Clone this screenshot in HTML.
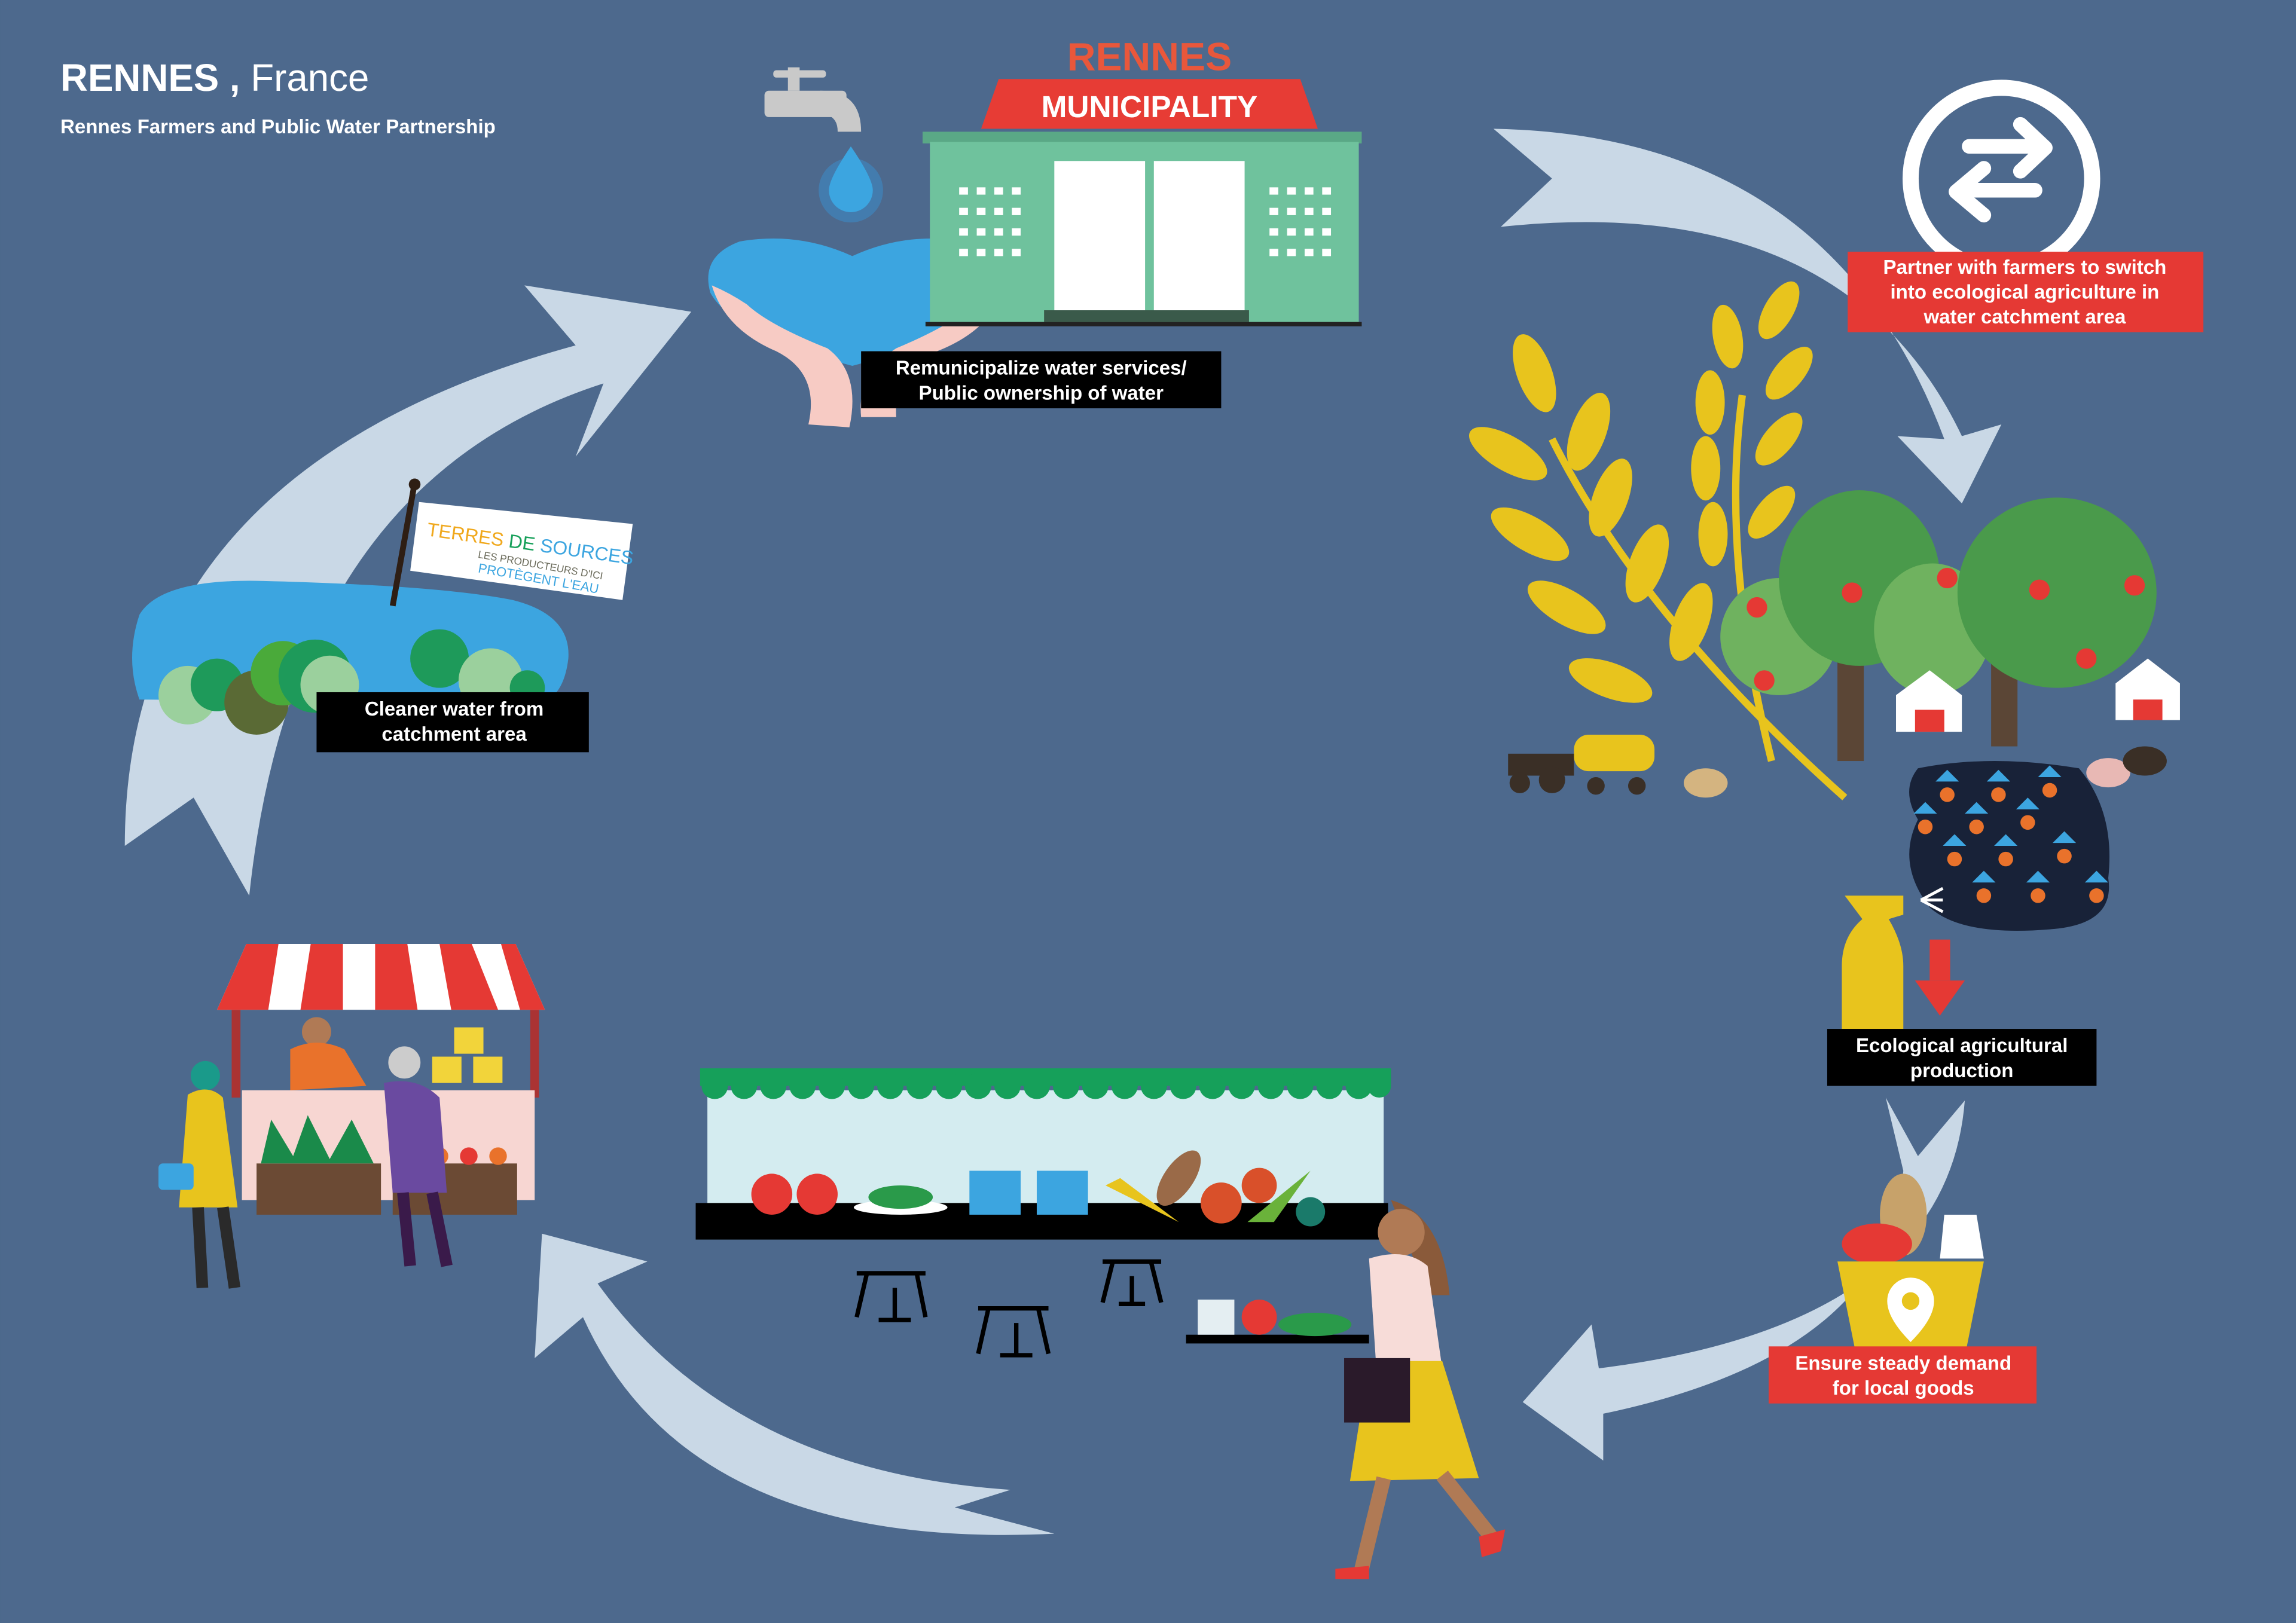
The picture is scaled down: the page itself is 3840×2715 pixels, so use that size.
<!DOCTYPE html>
<html><head><meta charset="utf-8"><style>
html,body{margin:0;padding:0;background:#4d698d;}
svg{display:block}
text{font-family:"Liberation Sans",sans-serif;}
</style></head><body>
<svg width="3840" height="2715" viewBox="0 0 1568 1109" xmlns="http://www.w3.org/2000/svg">
<rect width="1568" height="1109" fill="#4d698d"/>
<text x="41" y="62" font-size="26" font-weight="bold" fill="#fff">RENNES , <tspan font-weight="normal">France</tspan></text>
<text x="41" y="91" font-size="13.5" font-weight="bold" fill="#fff">Rennes Farmers and Public Water Partnership</text>

<g fill="#c9d8e6">
<path d="M1020,88 Q1250,92 1328,300 L1296,298 L1340,344 L1367,290 L1340,298 Q1260,130 1025,155 L1060,122 Z"/>
<path d="M85,578 Q85,320 393,236 L358,195 L472,213 L393,312 L412,262 Q200,330 170,612 L132,545 Z"/>
<path d="M720,1048 Q470,1060 398,900 L365,928 L370,843 L442,862 L408,877 Q500,1005 690,1018 L652,1030 Z"/>
<path d="M1342,752 Q1330,905 1092,935 L1087,905 L1040,958 L1095,998 L1095,966 Q1290,925 1300,800 L1288,750 L1310,790 Z"/>
</g>

<g fill="#c9c9c9">
<rect x="538" y="46" width="8" height="16"/>
<rect x="528" y="48" width="36" height="5" rx="2"/>
<rect x="522" y="62" width="56" height="18" rx="3"/>
<path d="M560,62 Q588,62 588,90 L572,90 Q572,78 560,78 Z"/>
</g>
<circle cx="581" cy="130" r="22" fill="#3a8fd0" opacity="0.5"/>
<path d="M581,100 Q596,122 596,130 A15,15 0 0 1 566,130 Q566,122 581,100 Z" fill="#3ca5e0"/>
<path d="M582,175 Q545,158 505,165 Q478,175 485,200 Q500,228 582,250 Q664,228 679,200 Q686,175 659,165 Q619,158 582,175 Z" fill="#3ca5e0"/>
<path d="M486,195 Q495,225 530,240 Q560,255 552,290 L580,292 Q588,255 565,238 Q525,222 510,208 Q498,200 486,195 Z" fill="#f7cbc4"/>
<path d="M686,195 Q678,225 640,240 Q610,252 612,285 L588,285 Q585,255 612,238 Q650,222 665,208 Q676,200 686,195 Z" fill="#f7cbc4"/>

<rect x="630" y="90" width="300" height="8" fill="#5aa886"/>
<rect x="635" y="97" width="293" height="125" fill="#6fc29d"/>
<rect x="632" y="220" width="298" height="3" fill="#222"/>
<path d="M670,88 L900,88 L888,54 L682,54 Z" fill="#e73c35"/>
<text x="785" y="80" font-size="21" font-weight="bold" fill="#fff" text-anchor="middle">MUNICIPALITY</text>
<text x="785" y="48" font-size="27" font-weight="bold" fill="#e9573b" text-anchor="middle">RENNES</text>
<rect x="720" y="110" width="62" height="102" fill="#fff"/>
<rect x="788" y="110" width="62" height="102" fill="#fff"/>
<rect x="713" y="212" width="140" height="8" fill="#3a5a4a"/>
<g fill="#fff">
<rect x="655" y="128" width="6" height="5"/><rect x="667" y="128" width="6" height="5"/><rect x="679" y="128" width="6" height="5"/><rect x="691" y="128" width="6" height="5"/>
<rect x="655" y="142" width="6" height="5"/><rect x="667" y="142" width="6" height="5"/><rect x="679" y="142" width="6" height="5"/><rect x="691" y="142" width="6" height="5"/>
<rect x="655" y="156" width="6" height="5"/><rect x="667" y="156" width="6" height="5"/><rect x="679" y="156" width="6" height="5"/><rect x="691" y="156" width="6" height="5"/>
<rect x="655" y="170" width="6" height="5"/><rect x="667" y="170" width="6" height="5"/><rect x="679" y="170" width="6" height="5"/><rect x="691" y="170" width="6" height="5"/>
<rect x="867" y="128" width="6" height="5"/><rect x="879" y="128" width="6" height="5"/><rect x="891" y="128" width="6" height="5"/><rect x="903" y="128" width="6" height="5"/>
<rect x="867" y="142" width="6" height="5"/><rect x="879" y="142" width="6" height="5"/><rect x="891" y="142" width="6" height="5"/><rect x="903" y="142" width="6" height="5"/>
<rect x="867" y="156" width="6" height="5"/><rect x="879" y="156" width="6" height="5"/><rect x="891" y="156" width="6" height="5"/><rect x="903" y="156" width="6" height="5"/>
<rect x="867" y="170" width="6" height="5"/><rect x="879" y="170" width="6" height="5"/><rect x="891" y="170" width="6" height="5"/><rect x="903" y="170" width="6" height="5"/>
</g>
<rect x="588" y="240" width="246" height="39" fill="#000"/>
<text x="711" y="256" font-size="13.5" font-weight="bold" fill="#fff" text-anchor="middle">Remunicipalize water services/</text>
<text x="711" y="273" font-size="13.5" font-weight="bold" fill="#fff" text-anchor="middle">Public ownership of water</text>

<circle cx="1367" cy="122" r="62" fill="none" stroke="#fff" stroke-width="11"/>
<path d="M1345,100 L1395,100 M1380,85 L1397,101 L1380,117" fill="none" stroke="#fff" stroke-width="10" stroke-linecap="round" stroke-linejoin="round"/>
<path d="M1390,130 L1338,130 M1355,115 L1336,131 L1355,147" fill="none" stroke="#fff" stroke-width="10" stroke-linecap="round" stroke-linejoin="round"/>
<rect x="1262" y="172" width="243" height="55" fill="#e53934"/>
<text x="1383" y="187" font-size="13.5" font-weight="bold" fill="#fff" text-anchor="middle">Partner with farmers to switch</text>
<text x="1383" y="204" font-size="13.5" font-weight="bold" fill="#fff" text-anchor="middle">into ecological agriculture in</text>
<text x="1383" y="221" font-size="13.5" font-weight="bold" fill="#fff" text-anchor="middle">water catchment area</text>

<g fill="#e8c41d">
<path d="M1060,300 Q1120,420 1260,545" fill="none" stroke="#e8c41d" stroke-width="5"/>
<path d="M1190,270 Q1175,380 1210,520" fill="none" stroke="#e8c41d" stroke-width="5"/>
<ellipse cx="1048" cy="255" rx="12" ry="28" transform="rotate(-20 1048 255)"/>
<ellipse cx="1085" cy="295" rx="12" ry="28" transform="rotate(20 1085 295)"/>
<ellipse cx="1030" cy="310" rx="30" ry="12" transform="rotate(30 1030 310)"/>
<ellipse cx="1100" cy="340" rx="12" ry="28" transform="rotate(20 1100 340)"/>
<ellipse cx="1045" cy="365" rx="30" ry="12" transform="rotate(30 1045 365)"/>
<ellipse cx="1125" cy="385" rx="12" ry="28" transform="rotate(20 1125 385)"/>
<ellipse cx="1070" cy="415" rx="30" ry="12" transform="rotate(30 1070 415)"/>
<ellipse cx="1155" cy="425" rx="12" ry="28" transform="rotate(20 1155 425)"/>
<ellipse cx="1100" cy="465" rx="30" ry="12" transform="rotate(20 1100 465)"/>
<ellipse cx="1180" cy="230" rx="10" ry="22" transform="rotate(-10 1180 230)"/>
<ellipse cx="1215" cy="212" rx="10" ry="22" transform="rotate(30 1215 212)"/>
<ellipse cx="1168" cy="275" rx="10" ry="22"/>
<ellipse cx="1222" cy="255" rx="10" ry="22" transform="rotate(40 1222 255)"/>
<ellipse cx="1165" cy="320" rx="10" ry="22"/>
<ellipse cx="1215" cy="300" rx="10" ry="22" transform="rotate(40 1215 300)"/>
<ellipse cx="1170" cy="365" rx="10" ry="22"/>
<ellipse cx="1210" cy="350" rx="10" ry="22" transform="rotate(40 1210 350)"/>
</g>

<rect x="1255" y="440" width="18" height="80" fill="#5b4636"/>
<rect x="1360" y="440" width="18" height="70" fill="#5b4636"/>
<circle cx="1215" cy="435" r="40" fill="#6fb25f"/>
<ellipse cx="1270" cy="395" rx="55" ry="60" fill="#4a9a4b"/>
<ellipse cx="1320" cy="430" rx="40" ry="45" fill="#6fb25f"/>
<ellipse cx="1405" cy="405" rx="68" ry="65" fill="#4a9a4b"/>
<g fill="#e53934">
<circle cx="1200" cy="415" r="7"/><circle cx="1265" cy="405" r="7"/><circle cx="1330" cy="395" r="7"/><circle cx="1393" cy="403" r="7"/><circle cx="1458" cy="400" r="7"/><circle cx="1425" cy="450" r="7"/><circle cx="1205" cy="465" r="7"/>
</g>
<path d="M1295,500 L1295,475 L1318,458 L1340,475 L1340,500 Z" fill="#fff"/>
<rect x="1308" y="485" width="20" height="15" fill="#e53934"/>
<path d="M1445,492 L1445,467 L1467,450 L1489,467 L1489,492 Z" fill="#fff"/>
<rect x="1457" y="478" width="20" height="14" fill="#e53934"/>
<rect x="1075" y="502" width="55" height="25" rx="10" fill="#e8c41d"/>
<rect x="1030" y="515" width="45" height="15" fill="#3a2f26"/>
<circle cx="1038" cy="535" r="7" fill="#3a2f26"/><circle cx="1060" cy="533" r="9" fill="#3a2f26"/><circle cx="1090" cy="537" r="6" fill="#3a2f26"/><circle cx="1118" cy="537" r="6" fill="#3a2f26"/>
<ellipse cx="1165" cy="535" rx="15" ry="10" fill="#d4b480"/>
<ellipse cx="1440" cy="528" rx="15" ry="10" fill="#e8b8b4"/>
<ellipse cx="1465" cy="520" rx="15" ry="10" fill="#3a2f26"/>
<path d="M1310,525 Q1360,515 1420,525 Q1445,555 1440,600 Q1445,632 1400,635 Q1340,640 1318,620 Q1295,590 1310,560 Q1298,540 1310,525 Z" fill="#182238"/>
<g fill="#e9722b">
<circle cx="1330" cy="543" r="5"/><circle cx="1365" cy="543" r="5"/><circle cx="1400" cy="540" r="5"/><circle cx="1315" cy="565" r="5"/><circle cx="1350" cy="565" r="5"/><circle cx="1385" cy="562" r="5"/><circle cx="1335" cy="587" r="5"/><circle cx="1370" cy="587" r="5"/><circle cx="1410" cy="585" r="5"/><circle cx="1355" cy="612" r="5"/><circle cx="1392" cy="612" r="5"/><circle cx="1432" cy="612" r="5"/>
</g>
<g fill="#3ca5e0">
<path d="M1322,534 l8,-8 8,8 z"/><path d="M1357,534 l8,-8 8,8 z"/><path d="M1392,531 l8,-8 8,8 z"/><path d="M1307,556 l8,-8 8,8 z"/><path d="M1342,556 l8,-8 8,8 z"/><path d="M1377,553 l8,-8 8,8 z"/><path d="M1327,578 l8,-8 8,8 z"/><path d="M1362,578 l8,-8 8,8 z"/><path d="M1402,576 l8,-8 8,8 z"/><path d="M1347,603 l8,-8 8,8 z"/><path d="M1384,603 l8,-8 8,8 z"/><path d="M1424,603 l8,-8 8,8 z"/>
</g>
<path d="M1260,612 L1300,612 L1300,625 L1290,628 Q1300,645 1300,660 L1300,705 L1258,705 L1258,660 Q1258,640 1272,628 Z" fill="#e8c41d"/>
<path d="M1312,615 l15,-8 M1312,615 l15,0 M1312,615 l15,8" stroke="#fff" stroke-width="2"/>
<rect x="1318" y="642" width="14" height="28" fill="#e53934"/>
<path d="M1308,670 L1342,670 L1325,694 Z" fill="#e53934"/>
<rect x="1248" y="703" width="184" height="39" fill="#000"/>
<text x="1340" y="719" font-size="13.5" font-weight="bold" fill="#fff" text-anchor="middle">Ecological agricultural</text>
<text x="1340" y="736" font-size="13.5" font-weight="bold" fill="#fff" text-anchor="middle">production</text>

<ellipse cx="1300" cy="830" rx="16" ry="28" fill="#c7a26a"/>
<ellipse cx="1282" cy="850" rx="24" ry="14" fill="#e53934"/>
<path d="M1328,830 L1350,830 L1355,860 L1325,860 Z" fill="#fff"/>
<path d="M1255,862 L1355,862 L1343,922 L1267,922 Z" fill="#e8c41d"/>
<path d="M1305,873 a16,16 0 0 1 16,16 q0,12 -16,28 q-16,-16 -16,-28 a16,16 0 0 1 16,-16 z" fill="#fff"/>
<circle cx="1305" cy="889" r="6" fill="#e8c41d"/>
<rect x="1208" y="920" width="183" height="39" fill="#e53934"/>
<text x="1300" y="936" font-size="13.5" font-weight="bold" fill="#fff" text-anchor="middle">Ensure steady demand</text>
<text x="1300" y="953" font-size="13.5" font-weight="bold" fill="#fff" text-anchor="middle">for local goods</text>

<rect x="483" y="745" width="462" height="80" fill="#d4ecf0"/>
<rect x="478" y="730" width="472" height="12" fill="#16a05a"/>
<g fill="#16a05a">
<circle cx="488" cy="742" r="9"/><circle cx="508" cy="742" r="9"/><circle cx="528" cy="742" r="9"/><circle cx="548" cy="742" r="9"/><circle cx="568" cy="742" r="9"/><circle cx="588" cy="742" r="9"/><circle cx="608" cy="742" r="9"/><circle cx="628" cy="742" r="9"/><circle cx="648" cy="742" r="9"/><circle cx="668" cy="742" r="9"/><circle cx="688" cy="742" r="9"/><circle cx="708" cy="742" r="9"/><circle cx="728" cy="742" r="9"/><circle cx="748" cy="742" r="9"/><circle cx="768" cy="742" r="9"/><circle cx="788" cy="742" r="9"/><circle cx="808" cy="742" r="9"/><circle cx="828" cy="742" r="9"/><circle cx="848" cy="742" r="9"/><circle cx="868" cy="742" r="9"/><circle cx="888" cy="742" r="9"/><circle cx="908" cy="742" r="9"/><circle cx="928" cy="742" r="9"/><circle cx="942" cy="742" r="8"/>
</g>
<rect x="475" y="822" width="473" height="25" fill="#000"/>
<circle cx="527" cy="816" r="14" fill="#e53934"/><circle cx="558" cy="816" r="14" fill="#e53934"/>
<ellipse cx="615" cy="825" rx="32" ry="5" fill="#fff"/><ellipse cx="615" cy="818" rx="22" ry="8" fill="#2a9a4a"/>
<rect x="662" y="800" width="35" height="30" fill="#3ca5e0"/><rect x="708" y="800" width="35" height="30" fill="#3ca5e0"/>
<path d="M755,810 L805,835 L765,805 Z" fill="#e8c41d"/>
<ellipse cx="805" cy="805" rx="10" ry="22" fill="#9a6a48" transform="rotate(35 805 805)"/>
<circle cx="834" cy="822" r="14" fill="#d9502a"/><circle cx="860" cy="810" r="12" fill="#d9502a"/>
<path d="M852,835 L895,800 L870,835 Z" fill="#6ab23a"/>
<circle cx="895" cy="828" r="10" fill="#1a7a6a"/>
<g stroke="#000" stroke-width="3" fill="none">
<path d="M585,870 L632,870 M592,870 L585,900 M626,870 L632,900 M611,880 L611,902 M600,902 L622,902"/>
<path d="M668,894 L716,894 M675,894 L668,925 M709,894 L716,925 M694,904 L694,926 M683,926 L705,926"/>
<path d="M753,862 L793,862 M760,862 L753,890 M786,862 L793,890 M773,872 L773,891 M764,891 L782,891"/>
</g>
<rect x="810" y="912" width="125" height="6" fill="#000"/>
<rect x="818" y="888" width="25" height="24" fill="#e4eef2"/>
<circle cx="860" cy="900" r="12" fill="#e53934"/>
<ellipse cx="898" cy="905" rx="25" ry="8" fill="#2a9a4a"/>
<path d="M950,820 Q985,830 990,885 L975,885 Z" fill="#8a5a3a"/>
<circle cx="957" cy="842" r="16" fill="#b07a55"/>
<path d="M935,860 Q960,852 975,865 L985,935 L940,935 Z" fill="#f7dcd8"/>
<path d="M935,930 L985,930 L1010,1010 L922,1012 Z" fill="#e8c41d"/>
<path d="M945,1010 L930,1072 M985,1008 L1020,1052" stroke="#b07a55" stroke-width="10"/>
<path d="M912,1072 L935,1070 L935,1079 L912,1079 Z M1010,1050 L1028,1045 L1025,1060 L1012,1064 Z" fill="#e53934"/>
<rect x="918" y="928" width="45" height="44" fill="#2a1a2a"/>

<rect x="158" y="690" width="6" height="60" fill="#a33"/><rect x="362" y="690" width="6" height="60" fill="#a33"/>
<path d="M168,645 L352,645 L372,690 L148,690 Z" fill="#fff"/>
<g fill="#e53934">
<path d="M168,645 L190,645 L183,690 L148,690 Z"/><path d="M212,645 L234,645 L234,690 L205,690 Z"/><path d="M256,645 L278,645 L285,690 L256,690 Z"/><path d="M300,645 L322,645 L340,690 L308,690 Z"/><path d="M342,645 L352,645 L372,690 L355,690 Z"/>
</g>
<rect x="165" y="745" width="200" height="75" fill="#f7d6d2"/>
<rect x="175" y="795" width="85" height="35" fill="#6b4a34"/><rect x="268" y="795" width="85" height="35" fill="#6b4a34"/>
<path d="M178,795 L185,765 L200,790 L210,762 L225,792 L240,765 L255,795 Z" fill="#1a8a4a"/>
<circle cx="280" cy="790" r="6" fill="#e53934"/><circle cx="300" cy="790" r="6" fill="#e9722b"/><circle cx="320" cy="790" r="6" fill="#e53934"/><circle cx="340" cy="790" r="6" fill="#e9722b"/>
<rect x="310" y="702" width="20" height="18" fill="#f2d43a"/><rect x="295" y="722" width="20" height="18" fill="#f2d43a"/><rect x="323" y="722" width="20" height="18" fill="#f2d43a"/>
<circle cx="216" cy="705" r="10" fill="#b07a55"/>
<path d="M198,717 Q216,708 235,717 L250,742 L198,745 Z" fill="#e9722b"/>
<circle cx="276" cy="726" r="11" fill="#ccc"/>
<path d="M262,740 Q285,735 300,750 L305,815 L268,815 Z" fill="#6a4aa0"/>
<path d="M275,815 L280,865 M295,815 L305,865" stroke="#3a1a4a" stroke-width="8"/>
<circle cx="140" cy="735" r="10" fill="#1a9a8a"/>
<path d="M128,748 Q142,740 152,750 L162,825 L122,825 Z" fill="#e8c41d"/>
<path d="M135,825 L138,880 M152,825 L160,880" stroke="#2a2a2a" stroke-width="8"/>
<rect x="108" y="795" width="24" height="18" rx="3" fill="#3ca5e0"/>

<path d="M95,420 Q110,395 180,397 Q300,400 350,410 Q390,420 388,450 Q385,475 370,480 L95,478 Q85,450 95,420 Z" fill="#3ca5e0"/>
<circle cx="128" cy="475" r="20" fill="#9bd09d"/>
<circle cx="148" cy="468" r="18" fill="#1e9a5a"/>
<circle cx="175" cy="480" r="22" fill="#5a6a35"/>
<circle cx="193" cy="460" r="22" fill="#4aaa3a"/>
<circle cx="215" cy="462" r="25" fill="#1e9a5a"/>
<circle cx="225" cy="468" r="20" fill="#9bd09d"/>
<circle cx="300" cy="450" r="20" fill="#1e9a5a"/>
<circle cx="335" cy="465" r="22" fill="#9bd09d"/>
<circle cx="360" cy="470" r="12" fill="#1e9a5a"/>
<path d="M283,330 L268,414" stroke="#2e1e14" stroke-width="4"/>
<circle cx="283" cy="331" r="4" fill="#2e1e14"/>
<path d="M286,343 L432,358 L425,410 L280,390 Z" fill="#fff"/>
<text x="291" y="366" font-size="13" fill="#f0a81c" transform="rotate(8 291 366)">TERRES <tspan fill="#16a05a">DE</tspan> <tspan fill="#3ca5e0">SOURCES</tspan></text>
<text x="326" y="381" font-size="7" fill="#6a6a5a" transform="rotate(10 326 381)">LES PRODUCTEURS D'ICI</text>
<text x="326" y="391" font-size="9" fill="#3ca5e0" transform="rotate(10 326 391)">PROTÈGENT L'EAU</text>
<rect x="216" y="473" width="186" height="41" fill="#000"/>
<text x="310" y="489" font-size="13.5" font-weight="bold" fill="#fff" text-anchor="middle">Cleaner water from</text>
<text x="310" y="506" font-size="13.5" font-weight="bold" fill="#fff" text-anchor="middle">catchment area</text>
</svg>
</body></html>
